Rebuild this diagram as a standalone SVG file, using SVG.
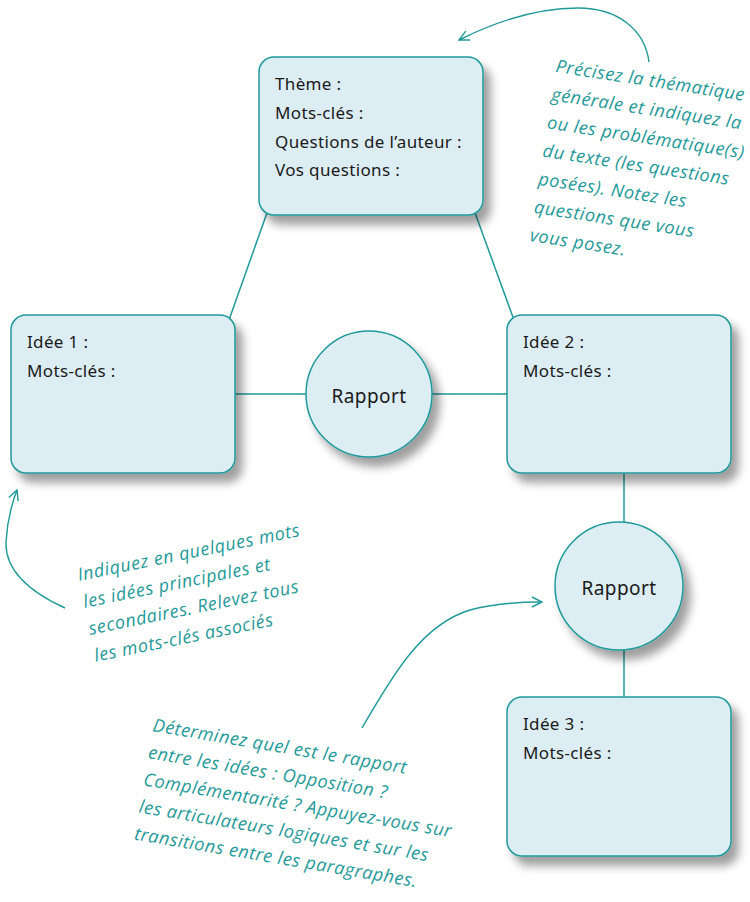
<svg xmlns="http://www.w3.org/2000/svg" width="750" height="902" viewBox="0 0 750 902">
<defs>
  <filter id="sh" x="-20%" y="-20%" width="150%" height="150%">
    <feDropShadow dx="7" dy="9" stdDeviation="5" flood-color="#000" flood-opacity="0.38"/>
  </filter>
  <marker id="arr" viewBox="0 0 12 12" refX="11" refY="6" markerWidth="12" markerHeight="12" markerUnits="userSpaceOnUse" orient="auto">
    <path d="M1,1 L11,6 L1,11" fill="none" stroke="#1f9a9a" stroke-width="1.4"/>
  </marker>
  <style>
    .box{fill:#dcedf3;stroke:#1f9a9a;stroke-width:1.5;filter:url(#sh)}
    .t{font-family:"Noto Sans","Open Sans","Liberation Sans",sans-serif;font-size:17px;letter-spacing:0.35px;fill:#1a1a1a}
    .r{font-family:"Noto Sans","Open Sans","Liberation Sans",sans-serif;font-size:19px;letter-spacing:0.4px;fill:#1a1a1a;text-anchor:middle}
    .note{font-family:"Open Sans","Noto Sans","Liberation Sans",sans-serif;font-size:18px;letter-spacing:0.55px;font-style:italic;fill:#1f9a9a}
    .ln{stroke:#1f9a9a;stroke-width:1.5;fill:none}
    .ar{stroke:#1f9a9a;stroke-width:1.4;fill:none;marker-end:url(#arr)}
  </style>
</defs>
<g id="connectors">
  <line class="ln" x1="268" y1="210" x2="229" y2="320"/>
  <line class="ln" x1="474" y1="210" x2="514" y2="320"/>
  <line class="ln" x1="235" y1="394" x2="306" y2="394"/>
  <line class="ln" x1="432" y1="394" x2="507" y2="394"/>
  <line class="ln" x1="624" y1="473" x2="624" y2="522"/>
  <line class="ln" x1="624" y1="649" x2="624" y2="697"/>
</g>
<g id="theme">
  <rect class="box" x="259" y="57" width="224" height="158" rx="15"/>
  <text class="t" x="275" y="90">Thème :</text>
  <text class="t" x="275" y="119">Mots-clés :</text>
  <text class="t" x="275" y="148">Questions de l’auteur :</text>
  <text class="t" x="275" y="176">Vos questions :</text>
</g>
<g id="idee1">
  <rect class="box" x="11" y="315" width="224" height="158" rx="15"/>
  <text class="t" x="27" y="348">Idée 1 :</text>
  <text class="t" x="27" y="377">Mots-clés :</text>
</g>
<g id="idee2">
  <rect class="box" x="507" y="315" width="224" height="158" rx="15"/>
  <text class="t" x="523" y="348">Idée 2 :</text>
  <text class="t" x="523" y="377">Mots-clés :</text>
</g>
<g id="idee3">
  <rect class="box" x="507" y="697" width="224" height="159" rx="15"/>
  <text class="t" x="523" y="730">Idée 3 :</text>
  <text class="t" x="523" y="759">Mots-clés :</text>
</g>
<g id="rapport1">
  <circle class="box" cx="369" cy="394" r="63"/>
  <text class="r" x="369" y="403">Rapport</text>
</g>
<g id="rapport2">
  <circle class="box" cx="619" cy="586" r="64"/>
  <text class="r" x="619" y="595">Rapport</text>
</g>
<g id="note-top">
  <path class="ar" d="M649,62 C645,30 618,8 578,8 C538,8 495,22 459,40"/>
  <text class="note" transform="translate(555,72) rotate(8.7)">
    <tspan x="0" y="0">Précisez la thématique</tspan>
    <tspan x="0" y="28.5">générale et indiquez la</tspan>
    <tspan x="0" y="57">ou les problématique(s)</tspan>
    <tspan x="0" y="85.5">du texte (les questions</tspan>
    <tspan x="0" y="114">posées). Notez les</tspan>
    <tspan x="0" y="142.5">questions que vous</tspan>
    <tspan x="0" y="171">vous posez.</tspan>
  </text>
</g>
<g id="note-left">
  <path class="ar" d="M65,608 C30,592 5,570 6,542 C7,522 11,506 17,490"/>
  <text class="note" transform="translate(79,581) rotate(-11.5)">
    <tspan x="0" y="0">Indiquez en quelques mots</tspan>
    <tspan x="0" y="27.5">les idées principales et</tspan>
    <tspan x="0" y="55">secondaires. Relevez tous</tspan>
    <tspan x="0" y="82.5">les mots-clés associés</tspan>
  </text>
</g>
<g id="note-bottom">
  <path class="ar" d="M362,728 C390,680 420,625 470,610 C495,603 520,602 542,602"/>
  <text class="note" transform="translate(152,731) rotate(9.6)">
    <tspan x="0" y="0">Déterminez quel est le rapport</tspan>
    <tspan x="0" y="27.5">entre les idées : Opposition ?</tspan>
    <tspan x="0" y="55">Complémentarité ? Appuyez-vous sur</tspan>
    <tspan x="0" y="82.5">les articulateurs logiques et sur les</tspan>
    <tspan x="0" y="110">transitions entre les paragraphes.</tspan>
  </text>
</g>
</svg>
